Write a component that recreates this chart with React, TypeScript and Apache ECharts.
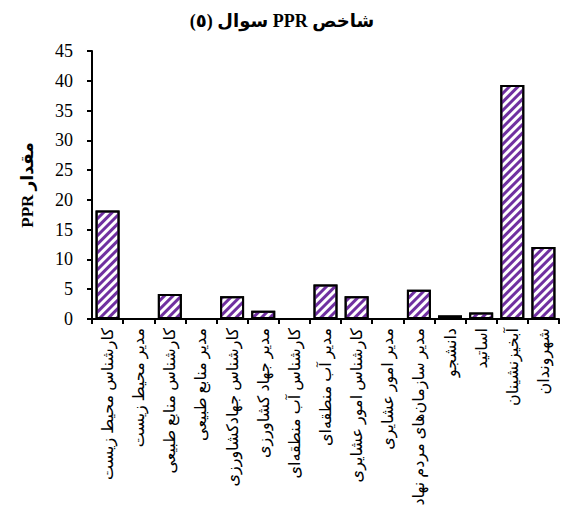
import React, { useEffect, useRef } from "react";
import * as echarts from "echarts";

const categories = [
  "کارشناس محیط زیست",
  "مدیر محیط زیست",
  "کارشناس منابع طبیعی",
  "مدیر منابع طبیعی",
  "کارشناس جهادکشاورزی",
  "مدیر جهاد کشاورزی",
  "کارشناس آب منطقه‌ای",
  "مدیر آب منطقه‌ای",
  "کارشناس امور عشایری",
  "مدیر امور عشایری",
  "مدیر سازمان‌های مردم نهاد",
  "دانشجو",
  "اساتید",
  "آبخیزنشینان",
  "شهروندان",
];
const values = [18.2, 0, 4.2, 0, 3.8, 1.4, 0, 5.8, 3.8, 0, 4.9, 0.6, 1.1, 39.3, 12.1];
const titleText = "\u202Bشاخص PPR سوال (٥)\u202C";
const yName = "\u202Bمقدار PPR\u202C";
const FONT = "'Liberation Serif', 'DejaVu Sans', serif";

export default function App() {
  const ref = useRef<HTMLDivElement>(null);
  useEffect(() => {
    if (!ref.current) return;
    const chart = echarts.init(ref.current, null, { renderer: "svg" });
    chart.setOption({
      animation: false,
      backgroundColor: "#ffffff",
      title: {
        text: titleText,
        left: "center",
        top: 7,
        textStyle: { fontFamily: FONT, fontSize: 18, fontWeight: "bold", color: "#000" },
      },
      grid: { left: 92, right: 5, top: 51, bottom: 204, containLabel: false },
      xAxis: {
        type: "category",
        data: categories,
        axisLine: { lineStyle: { color: "#000", width: 2 } },
        axisTick: { show: true, length: 5, lineStyle: { color: "#000", width: 2 } },
        axisLabel: {
          rotate: 90,
          interval: 0,
          margin: 9,
          fontFamily: FONT,
          fontSize: 16,
          color: "#000",
        },
      },
      yAxis: {
        type: "value",
        min: 0,
        max: 45,
        interval: 5,
        name: yName,
        nameLocation: "middle",
        nameRotate: 90,
        nameGap: 56,
        nameTextStyle: { fontFamily: FONT, fontSize: 17, fontWeight: "bold", color: "#000" },
        splitLine: { show: false },
        axisLine: { show: true, lineStyle: { color: "#000", width: 2 } },
        axisTick: { show: true, length: 5, lineStyle: { color: "#000", width: 2 } },
        axisLabel: { margin: 19, fontFamily: "'Liberation Serif', serif", fontSize: 18, color: "#000" },
      },
      series: [
        {
          type: "bar",
          data: values,
          barCategoryGap: "23%",
          itemStyle: {
            color: "#ffffff",
            borderColor: "#000",
            borderWidth: 2,
            decal: {
              symbol: "rect",
              symbolSize: 1,
              color: "#7030A0",
              dashArrayX: [1, 0],
              dashArrayY: [2.5, 2.5],
              rotation: -Math.PI / 4,
            },
          },
        },
      ],
    });
    return () => chart.dispose();
  }, []);
  return <div ref={ref} style={{ width: 564, height: 523, position: "absolute", left: 0, top: 0 }} />;
}
